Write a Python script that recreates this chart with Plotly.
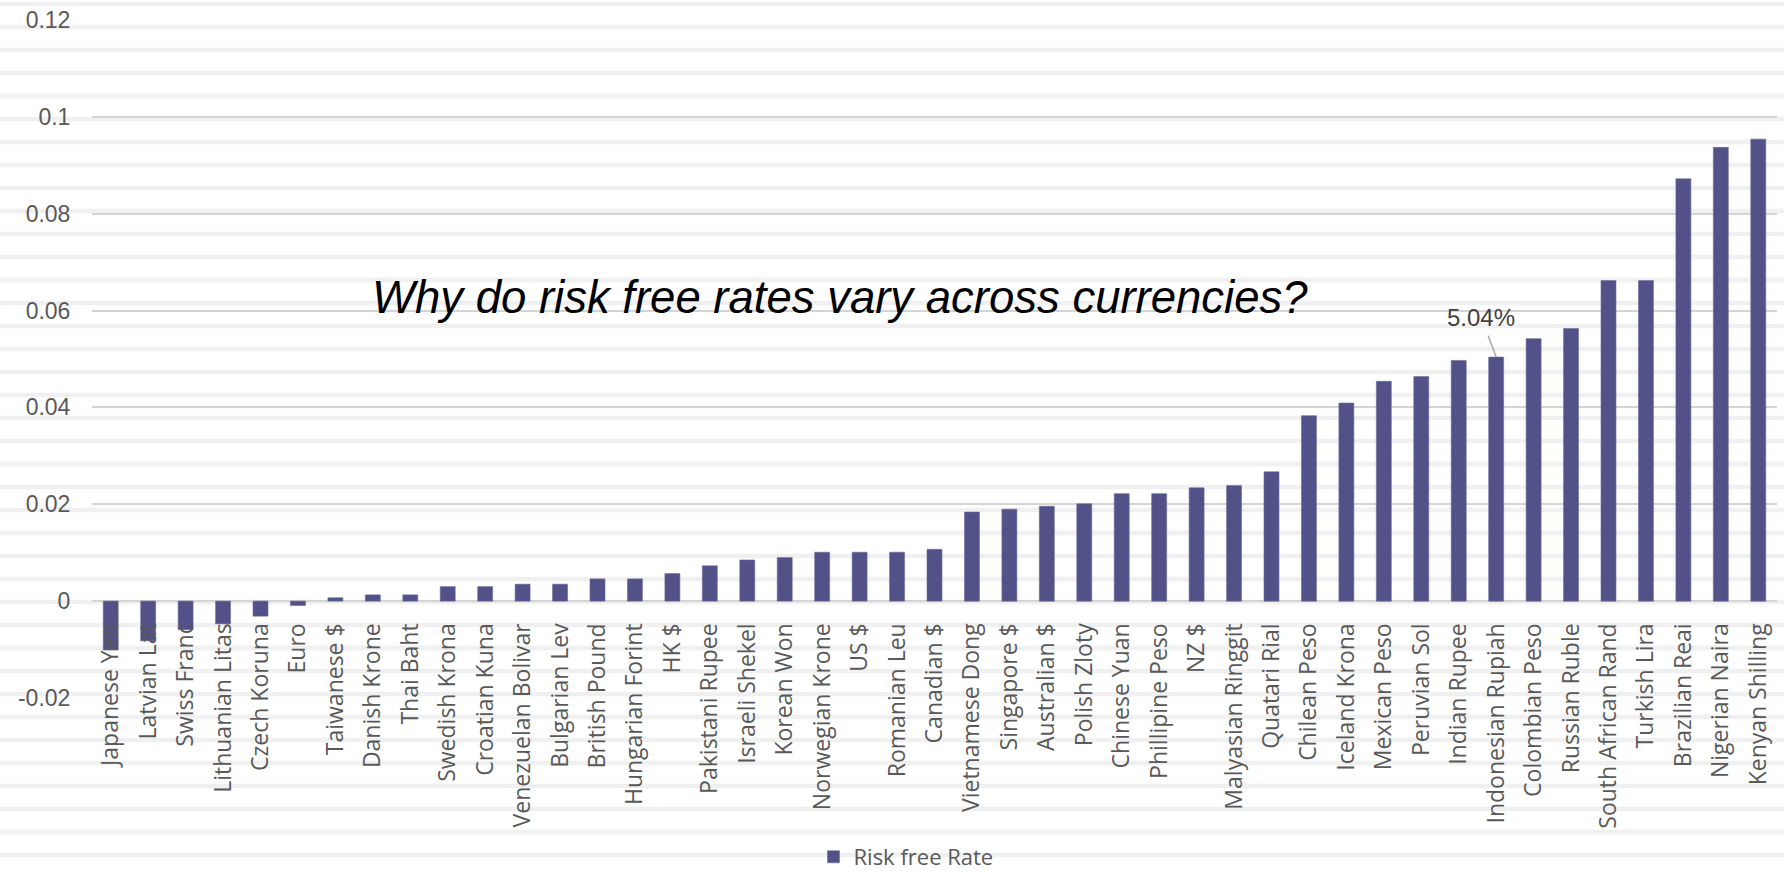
import plotly.graph_objects as go

currencies = [
    "Japanese Yen", "Latvian Lat", "Swiss Franc", "Lithuanian Litas", "Czech Koruna",
    "Euro", "Taiwanese $", "Danish Krone", "Thai Baht", "Swedish Krona",
    "Croatian Kuna", "Venezuelan Bolivar", "Bulgarian Lev", "British Pound", "Hungarian Forint",
    "HK $", "Pakistani Rupee", "Israeli Shekel", "Korean Won", "Norwegian Krone",
    "US $", "Romanian Leu", "Canadian $", "Vietnamese Dong", "Singapore $",
    "Australian $", "Polish Zloty", "Chinese Yuan", "Phillipine Peso", "NZ $",
    "Malyasian Ringgit", "Quatari Rial", "Chilean Peso", "Iceland Krona", "Mexican Peso",
    "Peruvian Sol", "Indian Rupee", "Indonesian Rupiah", "Colombian Peso", "Russian Ruble",
    "South African Rand", "Turkish Lira", "Brazilian Reai", "Nigerian Naira", "Kenyan Shilling",
]
risk_free_rate = [
    -0.0101, -0.0082, -0.0059, -0.0047, -0.0031,
    -0.0009, 0.0007, 0.0013, 0.0013, 0.0030,
    0.0030, 0.0035, 0.0035, 0.0046, 0.0046,
    0.0057, 0.0073, 0.0085, 0.0090, 0.0101,
    0.0101, 0.0101, 0.0107, 0.0184, 0.0190,
    0.0196, 0.0201, 0.0222, 0.0222, 0.0234,
    0.0239, 0.0267, 0.0383, 0.0409, 0.0454,
    0.0464, 0.0497, 0.0504, 0.0542, 0.0563,
    0.0662, 0.0662, 0.0872, 0.0937, 0.0954,
]
y_tick_vals = [-0.02, 0, 0.02, 0.04, 0.06, 0.08, 0.1, 0.12]
y_tick_text = ["-0.02", "0", "0.02", "0.04", "0.06", "0.08", "0.1", "0.12"]
series_name = "Risk free Rate"
labelled_currency = "Indonesian Rupiah"
headline = "Why do risk free rates vary across currencies?"

W, H = 1784, 873
M_L, M_R, M_T, M_B = 92, 7, 20, 175
Y_MIN, Y_MAX = -0.02, 0.12
plot_h = H - M_T - M_B

fig = go.Figure()
fig.add_trace(go.Bar(
    x=currencies, y=risk_free_rate, name=series_name,
    marker=dict(color="#525288", line=dict(color="#6a6a9c", width=0.6)),
))

# striped slide background
shapes = []
for i in range(38):
    cy = 4 + 23 * i
    y0 = (H - M_B - (cy + 2.3)) / plot_h
    y1 = (H - M_B - (cy - 2.3)) / plot_h
    shapes.append(dict(type="rect", xref="paper", yref="paper",
                       x0=-M_L / (W - M_L - M_R), x1=1 + M_R / (W - M_L - M_R),
                       y0=y0, y1=y1, fillcolor="#f0f0f0", line=dict(width=0),
                       layer="below"))

idx = currencies.index(labelled_currency)
annotations = [
    dict(x=labelled_currency, y=risk_free_rate[idx], xref="x", yref="y",
         text=f"{risk_free_rate[idx] * 100:.2f}%", showarrow=True, arrowhead=0,
         arrowcolor="#a6a6a6", arrowwidth=1.5, ax=-15, ay=-40, startstandoff=4,
         font=dict(family="Liberation Sans", size=24, color="#404040")),
    dict(x=(840 - M_L) / (W - M_L - M_R), y=0.0628, xref="paper", yref="y",
         text=f"<i>{headline}</i>", showarrow=False, xanchor="center", yanchor="middle",
         font=dict(family="Liberation Sans", size=45.5, color="#000000")),
]

fig.update_layout(
    width=W, height=H,
    margin=dict(l=M_L, r=M_R, t=M_T, b=M_B, autoexpand=False),
    paper_bgcolor="#ffffff", plot_bgcolor="rgba(0,0,0,0)",
    bargap=0.6,
    showlegend=True,
    legend=dict(orientation="h", xref="container", yref="container",
                x=906 / W, y=1 - 857 / H, xanchor="center", yanchor="middle",
                font=dict(family="Open Sans", size=22, color="#595959"),
                bgcolor="rgba(0,0,0,0)"),
    shapes=shapes,
    annotations=annotations,
    xaxis=dict(
        type="category", anchor="free",
        position=(0 - Y_MIN) / (Y_MAX - Y_MIN),
        tickangle=-90, showgrid=False, showline=False, zeroline=False,
        ticks="outside", ticklen=12, tickcolor="rgba(0,0,0,0)",
        tickfont=dict(family="Open Sans", size=23, color="#595959"),
        automargin=False, layer="above traces",
    ),
    yaxis=dict(
        range=[Y_MIN, Y_MAX], tickvals=y_tick_vals, ticktext=y_tick_text,
        showgrid=True, gridcolor="#d4d4d4", gridwidth=2,
        zeroline=False, showline=False,
        ticks="outside", ticklen=16, tickcolor="rgba(0,0,0,0)",
        tickfont=dict(family="Liberation Sans", size=23, color="#595959"),
        automargin=False,
    ),
)

fig.write_html("out.html")
